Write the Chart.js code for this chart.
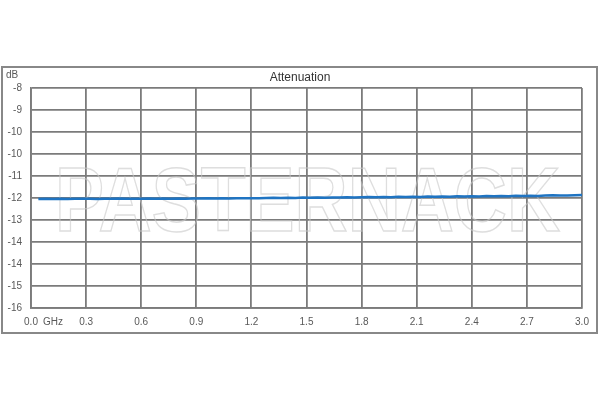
<!DOCTYPE html>
<html>
<head>
<meta charset="utf-8">
<script src="https://cdn.jsdelivr.net/npm/chart.js@4"></script>
<style>
html,body{margin:0;padding:0;background:#fff;}
#wrap{width:600px;height:400px;}
</style>
</head>
<body>
<div id="wrap"><canvas id="c" width="600" height="400"></canvas></div>
<script>
const chartTitle = 'Attenuation';
const yUnit = 'dB';
const xUnit = 'GHz';
const watermark = 'PASTERNACK';

const freqGHz = [0.04,0.08,0.12,0.16,0.20,0.24,0.28,0.32,0.36,0.40,0.44,0.48,0.52,0.56,0.60,0.64,0.68,0.72,0.76,0.80,0.84,0.88,0.92,0.96,1.00,1.04,1.08,1.12,1.16,1.20,1.24,1.28,1.32,1.36,1.40,1.44,1.48,1.52,1.56,1.60,1.64,1.68,1.72,1.76,1.80,1.84,1.88,1.92,1.96,2.00,2.04,2.08,2.12,2.16,2.20,2.24,2.28,2.32,2.36,2.40,2.44,2.48,2.52,2.56,2.60,2.64,2.68,2.72,2.76,2.80,2.84,2.88,2.92,2.96,3.00];
const attenuationDb = [-12.035,-12.030,-12.040,-12.030,-12.035,-12.028,-12.030,-12.025,-12.032,-12.027,-12.030,-12.022,-12.028,-12.024,-12.030,-12.020,-12.026,-12.018,-12.024,-12.020,-12.025,-12.015,-12.020,-12.012,-12.018,-12.010,-12.016,-12.008,-12.012,-12.005,-12.010,-12.000,-11.995,-12.003,-11.990,-11.996,-11.985,-11.992,-11.980,-11.988,-11.978,-11.984,-11.972,-11.980,-11.975,-11.968,-11.976,-11.962,-11.970,-11.958,-11.965,-11.955,-11.960,-11.950,-11.957,-11.945,-11.952,-11.940,-11.948,-11.936,-11.944,-11.930,-11.940,-11.926,-11.934,-11.922,-11.930,-11.918,-11.925,-11.910,-11.900,-11.912,-11.905,-11.898,-11.895];

const xTickValues = [0,0.3,0.6,0.9,1.2,1.5,1.8,2.1,2.4,2.7,3.0];
const xTickLabels = ['0.0','0.3','0.6','0.9','1.2','1.5','1.8','2.1','2.4','2.7','3.0'];
const yTickValues = [-8,-8.8,-9.6,-10.4,-11.2,-12,-12.8,-13.6,-14.4,-15.2,-16];
const yTickLabels = ['-8','-9','-10','-10','-11','-12','-13','-14','-14','-15','-16'];

const FONT = '"Liberation Sans", Arial, sans-serif';
const TEXT = '#595959';
const GRID = '#7b7b7b';

const decor = {
  id: 'decor',
  beforeDraw(chart) {
    const ctx = chart.ctx;
    ctx.save();
    ctx.fillStyle = '#fff';
    ctx.fillRect(0, 0, chart.width, chart.height);
    ctx.strokeStyle = '#888';
    ctx.lineWidth = 2;
    ctx.strokeRect(2, 67, 595, 266);
    ctx.restore();
  },
  beforeDatasetsDraw(chart) {
    const ctx = chart.ctx;
    ctx.save();
    ctx.font = 'bold 90px ' + FONT;
    const w = ctx.measureText(watermark).width;
    const targetW = 505;
    ctx.translate(55, 231);
    ctx.scale(targetW / w, 1);
    ctx.strokeStyle = 'rgba(200,200,200,0.6)';
    ctx.lineWidth = 1.5;
    ctx.textBaseline = 'alphabetic';
    ctx.strokeText(watermark, 0, 0);
    ctx.restore();
  },
  afterDraw(chart) {
    const ctx = chart.ctx;
    ctx.save();
    ctx.fillStyle = '#333';
    ctx.font = '12px ' + FONT;
    ctx.textAlign = 'center';
    ctx.textBaseline = 'middle';
    ctx.fillText(chartTitle, 300, 78);
    ctx.fillStyle = TEXT;
    ctx.font = '10px ' + FONT;
    ctx.textAlign = 'left';
    ctx.fillText(yUnit, 6, 75);
    ctx.fillText(xUnit, 43, 322);
    ctx.restore();
  }
};

new Chart(document.getElementById('c'), {
  type: 'line',
  data: {
    datasets: [{
      data: freqGHz.map((f, i) => ({x: f, y: attenuationDb[i]})),
      borderColor: '#1f74c2',
      borderWidth: 2.5,
      pointRadius: 0,
      tension: 0,
      fill: false
    }]
  },
  options: {
    responsive: false,
    animation: false,
    devicePixelRatio: 1,
    layout: {padding: {left: 0, right: 18, top: 88, bottom: 62}},
    plugins: {legend: {display: false}, title: {display: false}, tooltip: {enabled: false}},
    scales: {
      x: {
        type: 'linear', min: 0, max: 3,
        afterBuildTicks: s => { s.ticks = xTickValues.map(v => ({value: v})); },
        afterFit: s => { s.height = 30; },
        grid: {color: GRID, lineWidth: 1.8, drawTicks: false},
        border: {color: GRID, width: 1.8},
        ticks: {
          padding: 8, color: TEXT, font: {family: FONT, size: 10}, maxRotation: 0, autoSkip: false,
          callback: v => { const i = xTickValues.findIndex(t => Math.abs(t - v) < 1e-6); return i >= 0 ? xTickLabels[i] : ''; }
        }
      },
      y: {
        type: 'linear', min: -16, max: -8,
        afterBuildTicks: s => { s.ticks = yTickValues.slice().sort((a,b)=>a-b).map(v => ({value: v})); },
        afterFit: s => { s.width = 31; },
        grid: {color: GRID, lineWidth: 1.8, drawTicks: false},
        border: {color: GRID, width: 1.8},
        ticks: {
          padding: 9, color: TEXT, font: {family: FONT, size: 10}, autoSkip: false,
          callback: v => { const i = yTickValues.findIndex(t => Math.abs(t - v) < 1e-6); return i >= 0 ? yTickLabels[i] : ''; }
        }
      }
    }
  },
  plugins: [decor]
});
</script>
</body>
</html>
